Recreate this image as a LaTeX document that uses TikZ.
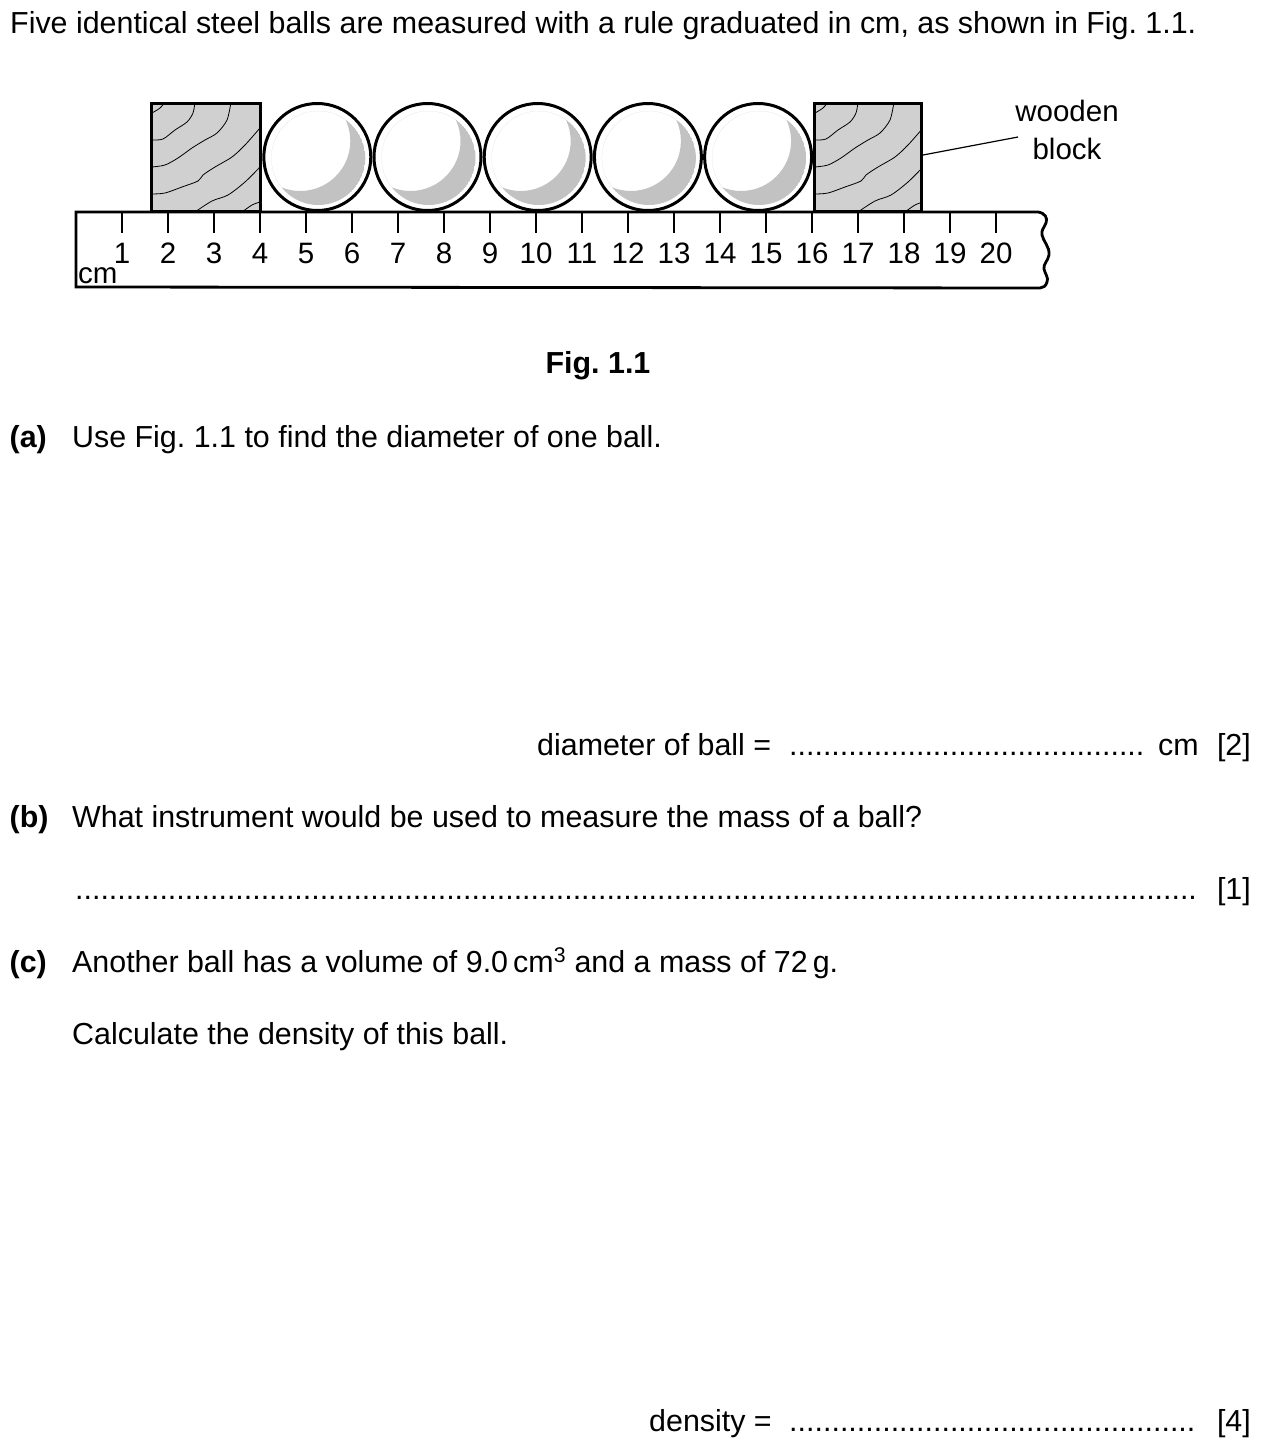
\documentclass[tikz,border=0pt]{standalone}
\usepackage{fontspec}
\setmainfont{Liberation Sans}
\definecolor{blockgray}{RGB}{208,208,208}
\definecolor{ballgray}{RGB}{194,194,194}
\newcommand\qsize{\fontsize{30.4pt}{36pt}\selectfont\frenchspacing}
\newcommand\rsize{\fontsize{29.5pt}{34pt}\selectfont}
\newcommand\dotrow[1]{\hbox to #1{\xleaders\hbox to 8.4pt{\hss.\hss}\hfill}}
\begin{document}
\begin{tikzpicture}[x=1pt,y=-1pt,
  qtext/.style={anchor=base west, inner sep=0pt, font=\qsize},
  qlabel/.style={anchor=base west, inner sep=0pt, font=\qsize\bfseries},
  qmarks/.style={anchor=base east, inner sep=0pt, font=\qsize},
  rnum/.style={anchor=base, inner sep=0pt, font=\rsize},
  grain/.style={line width=0.8pt},
  outline/.style={line width=3pt},
]
\useasboundingbox (0,0) rectangle (1267,1453);

% wooden blocks
\foreach \bx/\bw in {151.7/108.5, 814.7/107} {
  \fill[blockgray] (\bx,103.7) rectangle ++(\bw,108.3);
  \begin{scope}
    \clip (\bx,103.7) rectangle ++(\bw,108.3);
    \begin{scope}[shift={(\bx-0.7,102)}]
      \draw[grain] plot[smooth] coordinates {(1,11) (9,6) (14,0)};
      \draw[grain] plot[smooth] coordinates {(1,38) (12,37) (24,28) (36,20) (42,11) (44,0)};
      \draw[grain] plot[smooth] coordinates {(1,65) (14,63) (27,56) (41,46) (54,38) (66,31) (76,18) (80,0)};
      \draw[grain] plot[smooth] coordinates {(1,92) (14,91) (31,85) (47,79) (52,73) (64,65) (81,55) (94,43) (109,26)};
      \draw[grain] plot[smooth] coordinates {(44,110) (61,99) (77,93) (94,80) (109,65)};
      \draw[grain] plot[smooth] coordinates {(91,110) (101,103) (109,100)};
    \end{scope}
  \end{scope}
  \draw[line width=3.4pt] (\bx,103.7) rectangle ++(\bw,108.3);
}

% steel balls
\foreach \k in {0,...,4} {
  \pgfmathsetmacro\cx{317.3+110.2*\k}
  \begin{scope}[shift={(\cx,157)}]
    \fill[white] (0,0) circle[radius=53.5];
    \begin{scope}
      \clip (1,1) circle[radius=47];
      \fill[ballgray, even odd rule] (1,1) circle[radius=47] (-17,-16) circle[radius=50];
    \end{scope}
    \draw[outline] (0,0) circle[radius=53.5];
  \end{scope}
}

% rule
\draw[line width=2.8pt, fill=white] (76,287) -- (76,212) -- (1038,212)
  .. controls (1045,213) and (1048,218) .. (1046,223)
  .. controls (1044,228) and (1041,230) .. (1042,235)
  .. controls (1043,241) and (1050,247) .. (1049,255)
  .. controls (1048,261) and (1043,264) .. (1044,269)
  .. controls (1045,274) and (1049,278) .. (1047,282)
  .. controls (1046,286) and (1043,288) .. (1040,288) -- cycle;
\foreach \n in {1,...,20} {
  \draw[line width=1.3pt] (76+46*\n,213) -- (76+46*\n,233);
  \node[rnum] (num\n) at (76+46*\n,263) {\n};
}
\node[anchor=base west, inner sep=0pt, font=\rsize] (cmlabel) at (78,283) {cm};

% label of the wooden block
\node[rnum] (woodA) at (1067,122) {wooden};
\node[rnum] (woodB) at (1067,160) {block};
\coordinate (blockRedge) at (923,155);
\coordinate (leadEnd) at (1018,137);
\draw[line width=1.2pt] (blockRedge) -- (leadEnd);

% text
\node[qtext] (intro) at (10,34) {Five identical steel balls are measured with a rule graduated in cm, as shown in Fig. 1.1.};
\node[anchor=base, inner sep=0pt, font=\qsize\bfseries] (figcap) at (598,373) {Fig. 1.1};

\node[qlabel] (la) at (9.5,447) {(a)};
\node[qtext] (qa) at (72,447) {Use Fig. 1.1 to find the diameter of one ball.};
\node[qtext] (dlabel) at (537,755) {diameter of ball =};
\node[qtext] (ddots) at (789,755) {\dotrow{355pt}};
\node[qtext] (dunit) at (1158,755) {cm};
\node[qmarks] (m2) at (1251,755) {[2]};

\node[qlabel] (lb) at (9.5,827) {(b)};
\node[qtext] (qb) at (72,827) {What instrument would be used to measure the mass of a ball?};
\node[qtext] (bdots) at (75,899) {\dotrow{1121pt}};
\node[qmarks] (m1) at (1251,899) {[1]};

\node[qlabel] (lc) at (9.5,972) {(c)};
\node[qtext] (qc) at (72,972) {Another ball has a volume of 9.0\,cm\textsuperscript{3} and a mass of 72\,g.};
\node[qtext] (qc2) at (72,1044) {Calculate the density of this ball.};
\node[qtext] (rlabel) at (649,1431) {density =};
\node[qtext] (rdots) at (789,1431) {\dotrow{406pt}};
\node[qmarks] (m4) at (1251,1431) {[4]};
\end{tikzpicture}
\end{document}
